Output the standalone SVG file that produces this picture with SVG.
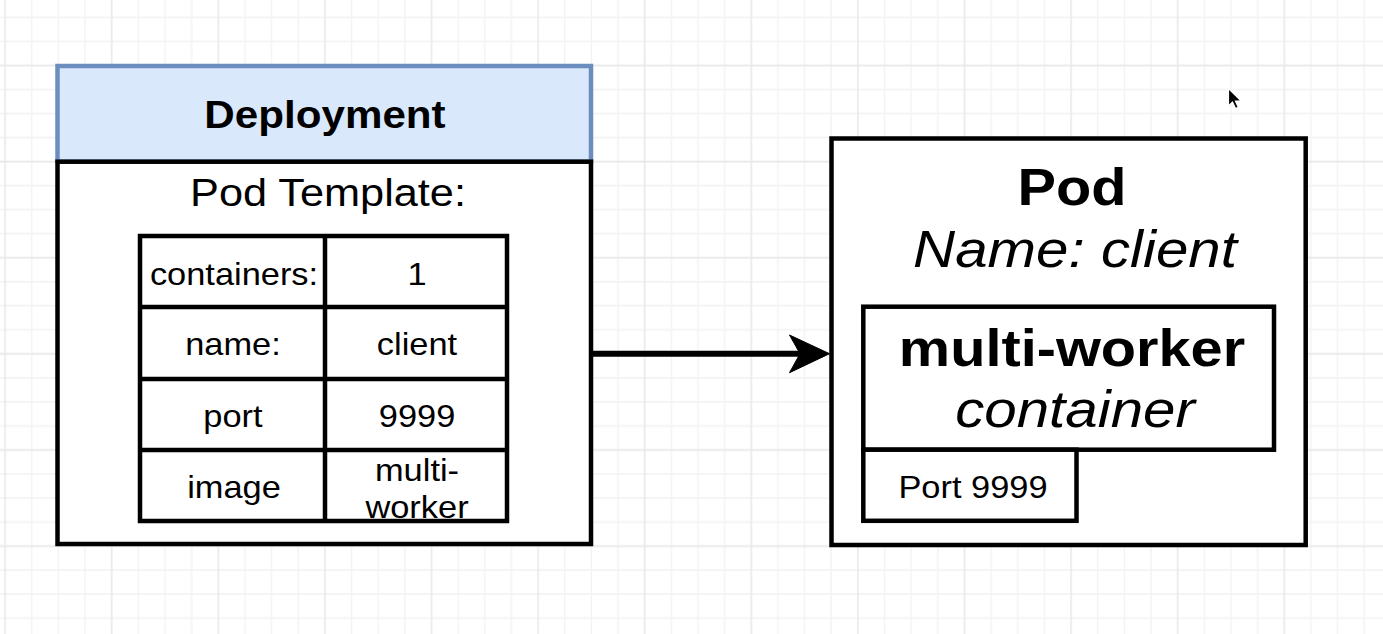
<svg xmlns="http://www.w3.org/2000/svg" width="1383" height="634" viewBox="0 0 1383 634">
  <defs>
    <!-- background grid: minor every 26.65 x 24.03, heavier line every fourth step -->
    <pattern id="grid" patternUnits="userSpaceOnUse" x="45.075" y="5.425" width="106.6" height="96.12">
      <path d="M13.325,0V96.12M39.975,0V96.12M93.275,0V96.12M0,12.015H106.6M0,36.045H106.6M0,84.105H106.6" stroke="#f3f3f3" stroke-width="1.5" fill="none"/>
      <path d="M66.625,0V96.12M0,60.075H106.6" stroke="#e8e8e8" stroke-width="1.5" fill="none"/>
    </pattern>
    <style>
      .box { fill: #ffffff; stroke: #000000; stroke-width: 4.5; }
      .head { fill: #dae8fc; stroke: #6c8ebf; stroke-width: 4.5; }
      .cell { fill: none; stroke: #000000; stroke-width: 4.5; }
      text { font-family: "Liberation Sans", Arial, Helvetica, sans-serif; fill: #000000; text-anchor: middle; }
      .title { font-size: 38px; font-weight: bold; }
      .sub { font-size: 39px; }
      .cellText { font-size: 31px; }
      .big { font-size: 52px; font-weight: bold; }
      .bigItalic { font-size: 52.5px; font-style: italic; }
      .wire { stroke: #000000; stroke-width: 6; fill: none; }
    </style>
  </defs>

  <rect x="0" y="0" width="1383" height="634" fill="#ffffff"/>
  <rect x="0" y="0" width="1383" height="634" fill="url(#grid)"/>

  <!-- Deployment with its pod template table -->
  <g id="deployment">
    <rect class="head" x="57.5" y="66" width="533.5" height="95.7"/>
    <rect class="box" x="57.5" y="161.7" width="533.5" height="382.3"/>
    <text class="title" transform="translate(325,127.5) scale(1.11,1)">Deployment</text>
    <text class="sub" transform="translate(328,206) scale(1.11,1)">Pod Template:</text>
    <g id="template-table">
      <rect class="cell" x="140" y="236" width="367" height="285"/>
      <path class="cell" d="M325,236V521M140,307H507M140,379H507M140,450H507"/>
      <text class="cellText" transform="translate(234,285) scale(1.11,1)">containers:</text>
      <text class="cellText" transform="translate(417,285) scale(1.11,1)">1</text>
      <text class="cellText" transform="translate(233,355) scale(1.11,1)">name:</text>
      <text class="cellText" transform="translate(417,355) scale(1.11,1)">client</text>
      <text class="cellText" transform="translate(233,427) scale(1.11,1)">port</text>
      <text class="cellText" transform="translate(417,427) scale(1.11,1)">9999</text>
      <text class="cellText" transform="translate(234,498) scale(1.11,1)">image</text>
      <text class="cellText" transform="translate(417,481) scale(1.11,1)">multi-</text>
      <text class="cellText" transform="translate(417,518) scale(1.11,1)">worker</text>
    </g>
  </g>

  <!-- Pod running the container -->
  <g id="pod">
    <rect class="box" x="831.5" y="138.5" width="474.2" height="406.5"/>
    <text class="big" transform="translate(1072,205) scale(1.11,1)">Pod</text>
    <text class="bigItalic" transform="translate(1075,266.5) scale(1.11,1)">Name: client</text>
  </g>

  <g id="container">
    <rect class="box" x="863.3" y="306.7" width="410.7" height="143"/>
    <text class="big" transform="translate(1072,366) scale(1.11,1)">multi-worker</text>
    <text class="bigItalic" transform="translate(1075,427) scale(1.11,1)">container</text>
  </g>

  <g id="port">
    <rect class="box" x="863.3" y="449.7" width="213.2" height="71.1"/>
    <text class="cellText" transform="translate(973,498) scale(1.11,1)">Port 9999</text>
  </g>

  <!-- connectors -->
  <g id="connectors">
    <line class="wire" x1="591" y1="353.7" x2="802" y2="353.7"/>
    <polygon points="829.5,353.7 789.5,335 800,353.7 789.5,372.7" fill="#000000" stroke="#000000" stroke-width="1" stroke-linejoin="miter"/>
  </g>

  <!-- mouse pointer -->
  <g id="pointer">
    <polygon points="1228.5,88.5 1228.5,106 1232.5,102 1235.5,108.5 1238.3,107.3 1235.4,101 1241,100.8" fill="#000000" stroke="#ffffff" stroke-width="1.2"/>
  </g>
</svg>
